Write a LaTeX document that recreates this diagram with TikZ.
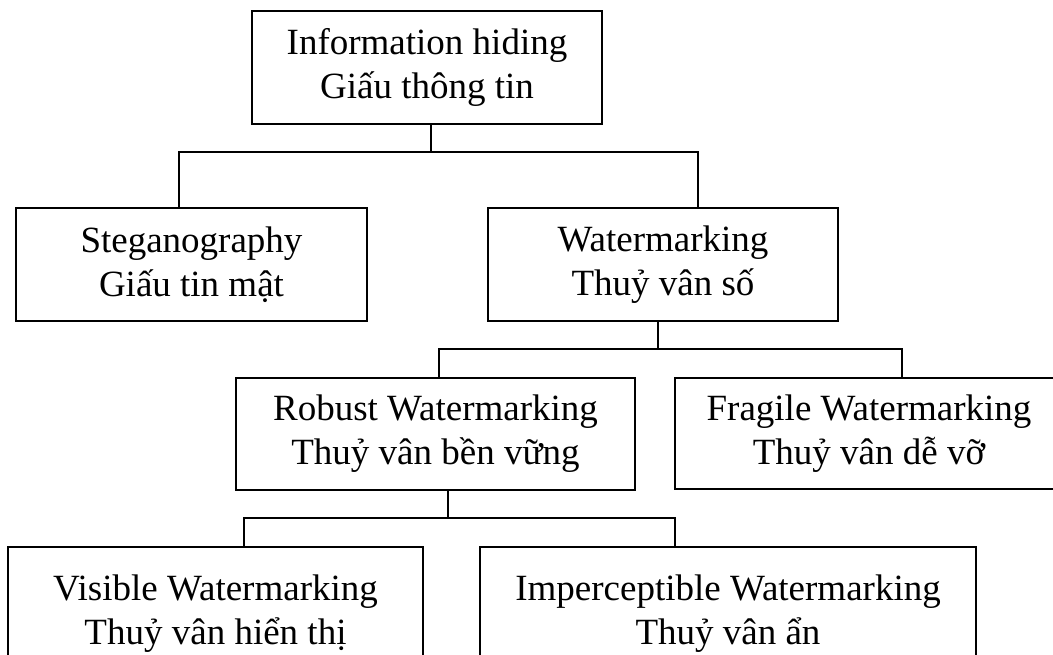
\documentclass[tikz,border=0pt]{standalone}
\usepackage{fontspec}
\setmainfont{Liberation Serif}
\begin{document}
\begin{tikzpicture}[x=1pt,y=-1pt,
  box/.style={draw=black, line width=2.2pt, inner sep=0pt, align=center,
              font=\fontsize{37}{44}\selectfont},
  link/.style={draw=black, line width=1.6pt, line cap=rect}]
\useasboundingbox (0,0) rectangle (1053,655);
\clip (0,0) rectangle (1053,655);

% classification boxes
\node[box, minimum width=350pt, minimum height=113pt] (b1) at (427,67.5)
  {Information hiding\\Giấu thông tin};
\node[box, minimum width=351pt, minimum height=113pt] (b2) at (191.5,264.5)
  {Steganography\\Giấu tin mật};
\node[box, minimum width=350pt, minimum height=113pt] (b3) at (663,264.5)
  {Watermarking\\Thuỷ vân số};
\node[box, minimum width=399pt, minimum height=112pt] (b4) at (435.5,434)
  {Robust Watermarking\\Thuỷ vân bền vững};
\node[box, minimum width=388pt, minimum height=111pt] (b5) at (869,433.5)
  {Fragile Watermarking\\Thuỷ vân dễ vỡ};
\node[box, minimum width=415pt, minimum height=134pt] (b6) at (215.5,614)
  {Visible Watermarking\\Thuỷ vân hiển thị};
\node[box, minimum width=496pt, minimum height=134pt] (b7) at (728,614)
  {Imperceptible Watermarking\\Thuỷ vân ẩn};

% junction points of the tree
\coordinate (s1) at (431,152);
\coordinate (h1L) at (179,152);
\coordinate (h1R) at (698,152);
\coordinate (s2) at (658,349);
\coordinate (h2L) at (439,349);
\coordinate (h2R) at (902,349);
\coordinate (s3) at (448,518);
\coordinate (h3L) at (244,518);
\coordinate (h3R) at (675,518);

% connectors
\draw[link] (s1 |- b1.south) -- (s1);
\draw[link] (h1L |- b2.north) -- (h1L) -- (h1R) -- (h1R |- b3.north);
\draw[link] (s2 |- b3.south) -- (s2);
\draw[link] (h2L |- b4.north) -- (h2L) -- (h2R) -- (h2R |- b5.north);
\draw[link] (s3 |- b4.south) -- (s3);
\draw[link] (h3L |- b6.north) -- (h3L) -- (h3R) -- (h3R |- b7.north);
\end{tikzpicture}
\end{document}
